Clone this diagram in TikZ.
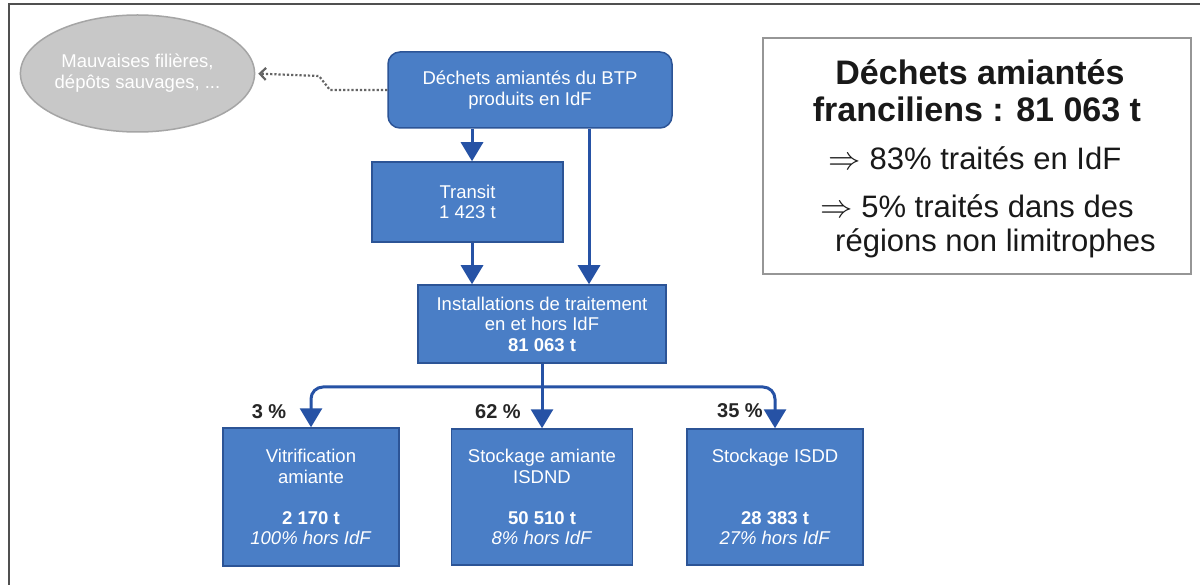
\documentclass[tikz,border=0pt]{standalone}
\usepackage{fontspec}
\setmainfont{Liberation Sans}
\usetikzlibrary{arrows.meta,shapes.geometric,calc}
\definecolor{boxblue}{RGB}{74,126,198}
\definecolor{boxedge}{RGB}{44,84,150}
\definecolor{arrblue}{RGB}{38,82,165}
\definecolor{ellfill}{RGB}{200,200,200}
\definecolor{elledge}{RGB}{165,165,165}
\definecolor{dotgray}{RGB}{100,100,100}
\definecolor{framegray}{RGB}{80,80,80}
\definecolor{sumgray}{RGB}{150,150,150}
\newcommand{\bigimp}{\scalebox{1.3}{$\Rightarrow$}}
\begin{document}
\begin{tikzpicture}[x=1pt,y=-1pt,
  bluebox/.style={draw=boxedge, line width=1.5pt, fill=boxblue, text=white, align=center, inner sep=0pt, font=\fontsize{18.5}{20.5}\selectfont},
  flow/.style={draw=arrblue, line width=3pt, -{Triangle[length=19pt,width=22pt,sharp]}},
  pct/.style={font=\bfseries\fontsize{20}{24}\selectfont, text=black!85, inner sep=0pt},
  bigtxt/.style={font=\bfseries\fontsize{34}{40}\selectfont, text=black!90, inner sep=0pt, anchor=base},
  midtxt/.style={font=\fontsize{31}{36}\selectfont, text=black!90, inner sep=0pt, anchor=base},
]
\useasboundingbox (0,0) rectangle (1200,585);
\fill[white] (0,0) rectangle (1200,585);
\draw[line width=1.5pt, framegray] (1210,4) -- (9,4) -- (9,595);

% ellipse
\node[ellipse, draw=elledge, fill=ellfill, line width=1.5pt, minimum width=231pt, minimum height=117pt, inner sep=0pt,
      text=white, align=center, font=\fontsize{18.5}{21}\selectfont] (ell) at (137.5,73.5) {Mauvaises filières,\\dépôts sauvages, ...};

% blue boxes
\node[bluebox, rounded corners=12pt, minimum width=284pt, minimum height=76pt] (dech) at (530,90) {Déchets amiantés du BTP\\produits en IdF};
\node[bluebox, minimum width=191pt, minimum height=80pt] (trans) at (467.5,202) {Transit\\1 423 t};
\node[bluebox, minimum width=248pt, minimum height=78pt] (inst) at (542,324) {Installations de traitement\\en et hors IdF\\\textbf{81 063 t}};
\node[bluebox, minimum width=176pt, minimum height=138pt] (vit) at (311,497) {Vitrification\\amiante\\\mbox{}\\\textbf{2 170 t}\\\textit{100\% hors IdF}};
\node[bluebox, minimum width=181pt, minimum height=136pt] (isdnd) at (542,497) {Stockage amiante\\ISDND\\\mbox{}\\\textbf{50 510 t}\\\textit{8\% hors IdF}};
\node[bluebox, minimum width=176pt, minimum height=136pt] (isdd) at (775,497) {Stockage ISDD\\\mbox{}\\\mbox{}\\\textbf{28 383 t}\\\textit{27\% hors IdF}};

% dotted connector
\coordinate (d1) at (330,90);
\coordinate (d2) at (319,76);
\draw[dotgray, line width=2.2pt, dotted, -{Straight Barb[length=6pt,width=12pt]}, shorten >=3pt] (dech.west) -- (d1) -- (d2) -- (ell.east);

% flow arrows
\coordinate (lx) at (472,0);
\coordinate (rx) at (589,0);
\draw[flow] (lx |- dech.south) -- (lx |- trans.north);
\draw[flow] (lx |- trans.south) -- (lx |- inst.north);
\draw[flow] (rx |- dech.south) -- (rx |- inst.north);
\coordinate (br) at (542,387);
\draw[flow] (inst.south) -- (isdnd.north);
\draw[draw=arrblue, line width=3pt, rounded corners=12pt] (br) -| ($(vit.north)+(0,-15)$);
\draw[draw=arrblue, line width=3pt, rounded corners=12pt] (br) -| ($(isdd.north)+(0,-15)$);
\draw[flow] ($(vit.north)+(0,-16)$) -- (vit.north);
\draw[flow] ($(isdd.north)+(0,-16)$) -- (isdd.north);

% percentages
\node[pct] (p3) at (269,412) {3 \%};
\node[pct] (p62) at (498,412) {62 \%};
\node[pct] (p35) at (740,411) {35 \%};

% summary box
\node[draw=sumgray, line width=1.5pt, minimum width=428pt, minimum height=236pt, inner sep=0pt] (sum) at (977,156) {};
\node[bigtxt] (t1) at (980,85) {Déchets amiantés};
\node[bigtxt] (t2) at (977,122) {franciliens : 81 063 t};
\node[midtxt] (t3) at (975,170) {\bigimp{} 83\% traités en IdF};
\node[midtxt] (t4) at (977,218) {\bigimp{} 5\% traités dans des};
\node[midtxt, anchor=base west] (t5) at (835,252) {régions non limitrophes};
\end{tikzpicture}
\end{document}
